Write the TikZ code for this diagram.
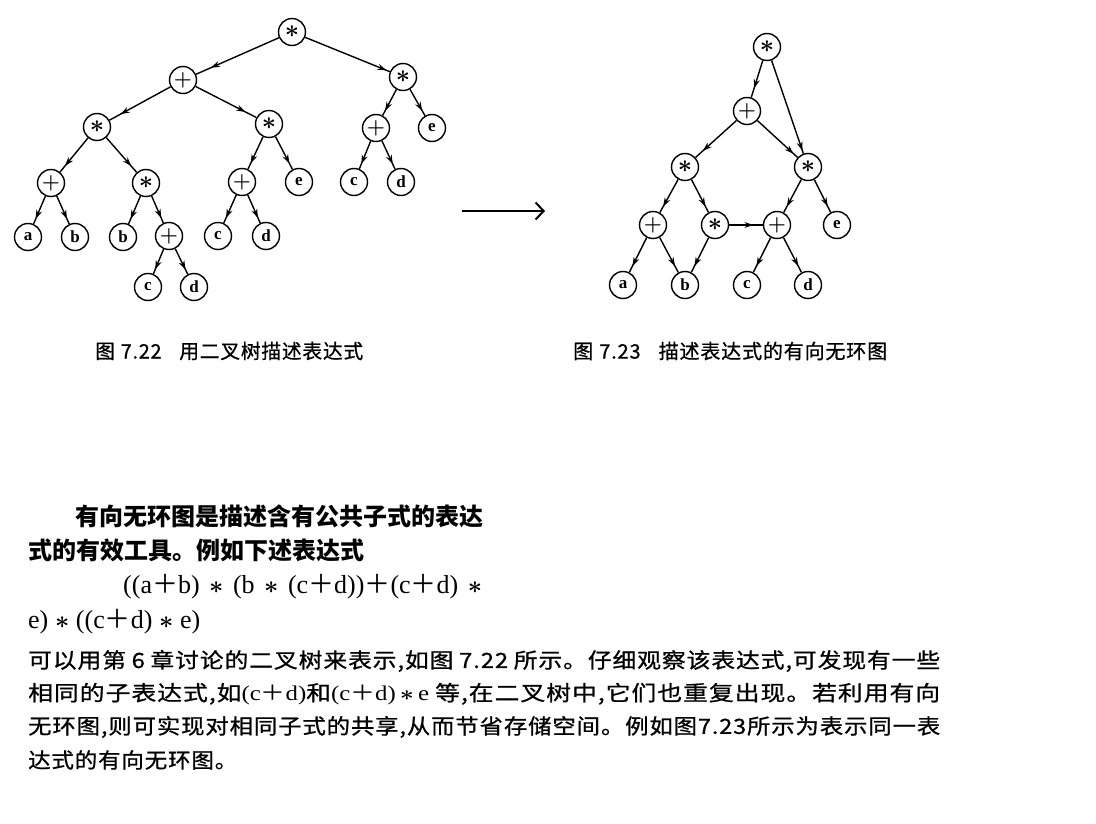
\documentclass[tikz,border=0pt]{standalone}
\usepackage{graphicx}
\usepackage{fontspec}
\setmainfont{Liberation Serif}
\newfontfamily\cjk{Noto Sans CJK SC}
\newfontfamily\cjkls{Noto Sans CJK SC}[LetterSpace=4,FakeBold=0.8]
\usetikzlibrary{arrows.meta,decorations.markings}
\newcommand\fp{{\cjk ＋}}
\newcommand\ak{{\boldmath$\ast$}}
\newcommand\gp{\hskip 0pt plus 1fil\relax}
\newcommand\fitw[2]{\resizebox{#1}{\height}{#2}}
\tikzset{
  nd/.style={circle,draw,line width=1.4pt,minimum size=27pt,inner sep=0pt,
    font=\fontsize{17}{17}\selectfont\bfseries},
  opst/.style={nd,font=\fontsize{24}{24}\selectfont\boldmath},
  oppl/.style={nd,font=\fontsize{20}{20}\selectfont\boldmath},
  ed/.style={line width=1.4pt,postaction={decorate,decoration={markings,
    mark=at position #1 with {\arrow{Stealth[length=9pt,width=6pt]}}}}},
  ed/.default=0.82,
  txt/.style={anchor=west,inner sep=0pt},
  captxt/.style={txt,font=\cjkls\fontsize{20}{22}\selectfont},
  parA/.style={txt,font=\cjk\bfseries\fontsize{24}{28}\selectfont},
  parB/.style={txt,font=\cjkls\fontsize{21}{24}\selectfont},
  expr/.style={txt,font=\fontsize{26}{28}\selectfont},
}
\begin{document}
\begin{tikzpicture}[x=1pt,y=-1pt]
\useasboundingbox (0,0) rectangle (1096,824);
\fill[white] (0,0) rectangle (1096,824);

% binary tree of the expression
\node[opst] (L0) at (292,32) {$\ast$};
\node[oppl] (L1) at (183,80) {$+$};
\node[opst] (L2) at (403,77) {$\ast$};
\node[opst] (L3) at (97,127) {$\ast$};
\node[opst] (L4) at (269,124) {$\ast$};
\node[oppl] (L5) at (376,128) {$+$};
\node[nd] (L6) at (432,128) {e};
\node[oppl] (L7) at (51,183) {$+$};
\node[opst] (L8) at (146,183) {$\ast$};
\node[oppl] (L9) at (242,182) {$+$};
\node[nd] (L10) at (299,182) {e};
\node[nd] (L11) at (354,182) {c};
\node[nd] (L12) at (401,182) {d};
\node[nd] (L13) at (28,237) {a};
\node[nd] (L14) at (75,237) {b};
\node[nd] (L15) at (123,237) {b};
\node[oppl] (L16) at (169,236) {$+$};
\node[nd] (L17) at (218,236) {c};
\node[nd] (L18) at (266,236) {d};
\node[nd] (L19) at (148,287) {c};
\node[nd] (L20) at (194,287) {d};

\draw[ed] (L0) -- (L1);
\draw[ed=0.96] (L0) -- (L2);
\draw[ed] (L1) -- (L3);
\draw[ed] (L1) -- (L4);
\draw[ed] (L2) -- (L5);
\draw[ed] (L2) -- (L6);
\draw[ed] (L3) -- (L7);
\draw[ed] (L3) -- (L8);
\draw[ed] (L4) -- (L9);
\draw[ed] (L4) -- (L10);
\draw[ed] (L5) -- (L11);
\draw[ed] (L5) -- (L12);
\draw[ed] (L7) -- (L13);
\draw[ed] (L7) -- (L14);
\draw[ed] (L8) -- (L15);
\draw[ed] (L8) -- (L16);
\draw[ed] (L9) -- (L17);
\draw[ed] (L9) -- (L18);
\draw[ed] (L16) -- (L19);
\draw[ed] (L16) -- (L20);

% transformation arrow
\coordinate (arrS) at (462,211);
\coordinate (arrE) at (545,211);
\draw[line width=2pt,-{Straight Barb[length=8pt,width=17pt,line width=2pt]}] (arrS) -- (arrE);

% directed acyclic graph of the same expression
\node[opst] (R0) at (767,47) {$\ast$};
\node[oppl] (R1) at (747,111) {$+$};
\node[opst] (R2) at (685,167) {$\ast$};
\node[opst] (R3) at (808,167) {$\ast$};
\node[oppl] (R4) at (653,225) {$+$};
\node[opst] (R5) at (715,225) {$\ast$};
\node[oppl] (R6) at (777,225) {$+$};
\node[nd] (R7) at (837,225) {e};
\node[nd] (R8) at (623,285) {a};
\node[nd] (R9) at (685,285) {b};
\node[nd] (R10) at (747,285) {c};
\node[nd] (R11) at (808,285) {d};

\draw[ed=0.75] (R0) -- (R1);
\draw[ed=0.97] (R0) -- (R3);
\draw[ed] (R1) -- (R2);
\draw[ed=0.9] (R1) -- (R3);
\draw[ed] (R2) -- (R4);
\draw[ed] (R2) -- (R5);
\draw[ed] (R3) -- (R6);
\draw[ed] (R3) -- (R7);
\draw[ed] (R4) -- (R8);
\draw[ed] (R4) -- (R9);
\draw[ed] (R5) -- (R9);
\draw[ed=0.72] (R5) -- (R6);
\draw[ed] (R6) -- (R10);
\draw[ed] (R6) -- (R11);

% captions
\node[captxt] (c1) at (95,351) {\fitw{268pt}{图\hspace{6pt}7.22\hspace{18pt}用二叉树描述表达式}};
\node[captxt] (c2) at (573,351) {\fitw{314pt}{图\hspace{6pt}7.23\hspace{18pt}描述表达式的有向无环图}};

% first paragraph
\node[parA] (p1) at (75,516) {\hbox to 410pt{有向无环图是描述含有公共子式的表达}};
\node[parA] (p2) at (28,550) {式的有效工具。例如下述表达式};
\node[expr] (p3) at (123,587) {\hbox to 359pt{((a\fp b)\gp\ak\gp(b\gp\ak\gp(c\fp d))\fp(c\fp d)\gp\ak}};
\node[expr] (p4) at (28,622) {\hbox to 172pt{e)\gp\ak\gp((c\fp d)\gp\ak\gp e)}};

% second paragraph
\node[parB] (q1) at (28,661) {\fitw{912pt}{可以用第\hspace{5pt}6\hspace{5pt}章讨论的二叉树来表示,如图\hspace{5pt}7.22\hspace{5pt}所示。仔细观察该表达式,可发现有一些}};
\node[parB] (q2) at (28,694) {\fitw{912pt}{相同的子表达式,如{\rmfamily(c\fp d)}和{\rmfamily(c\fp d)\,\ak\,e}\hspace{5pt}等,在二叉树中,它们也重复出现。若利用有向}};
\node[parB] (q3) at (28,727) {\fitw{912pt}{无环图,则可实现对相同子式的共享,从而节省存储空间。例如图7.23所示为表示同一表}};
\node[parB] (q4) at (28,760) {\fitw{209pt}{达式的有向无环图。}};
\end{tikzpicture}
\end{document}
